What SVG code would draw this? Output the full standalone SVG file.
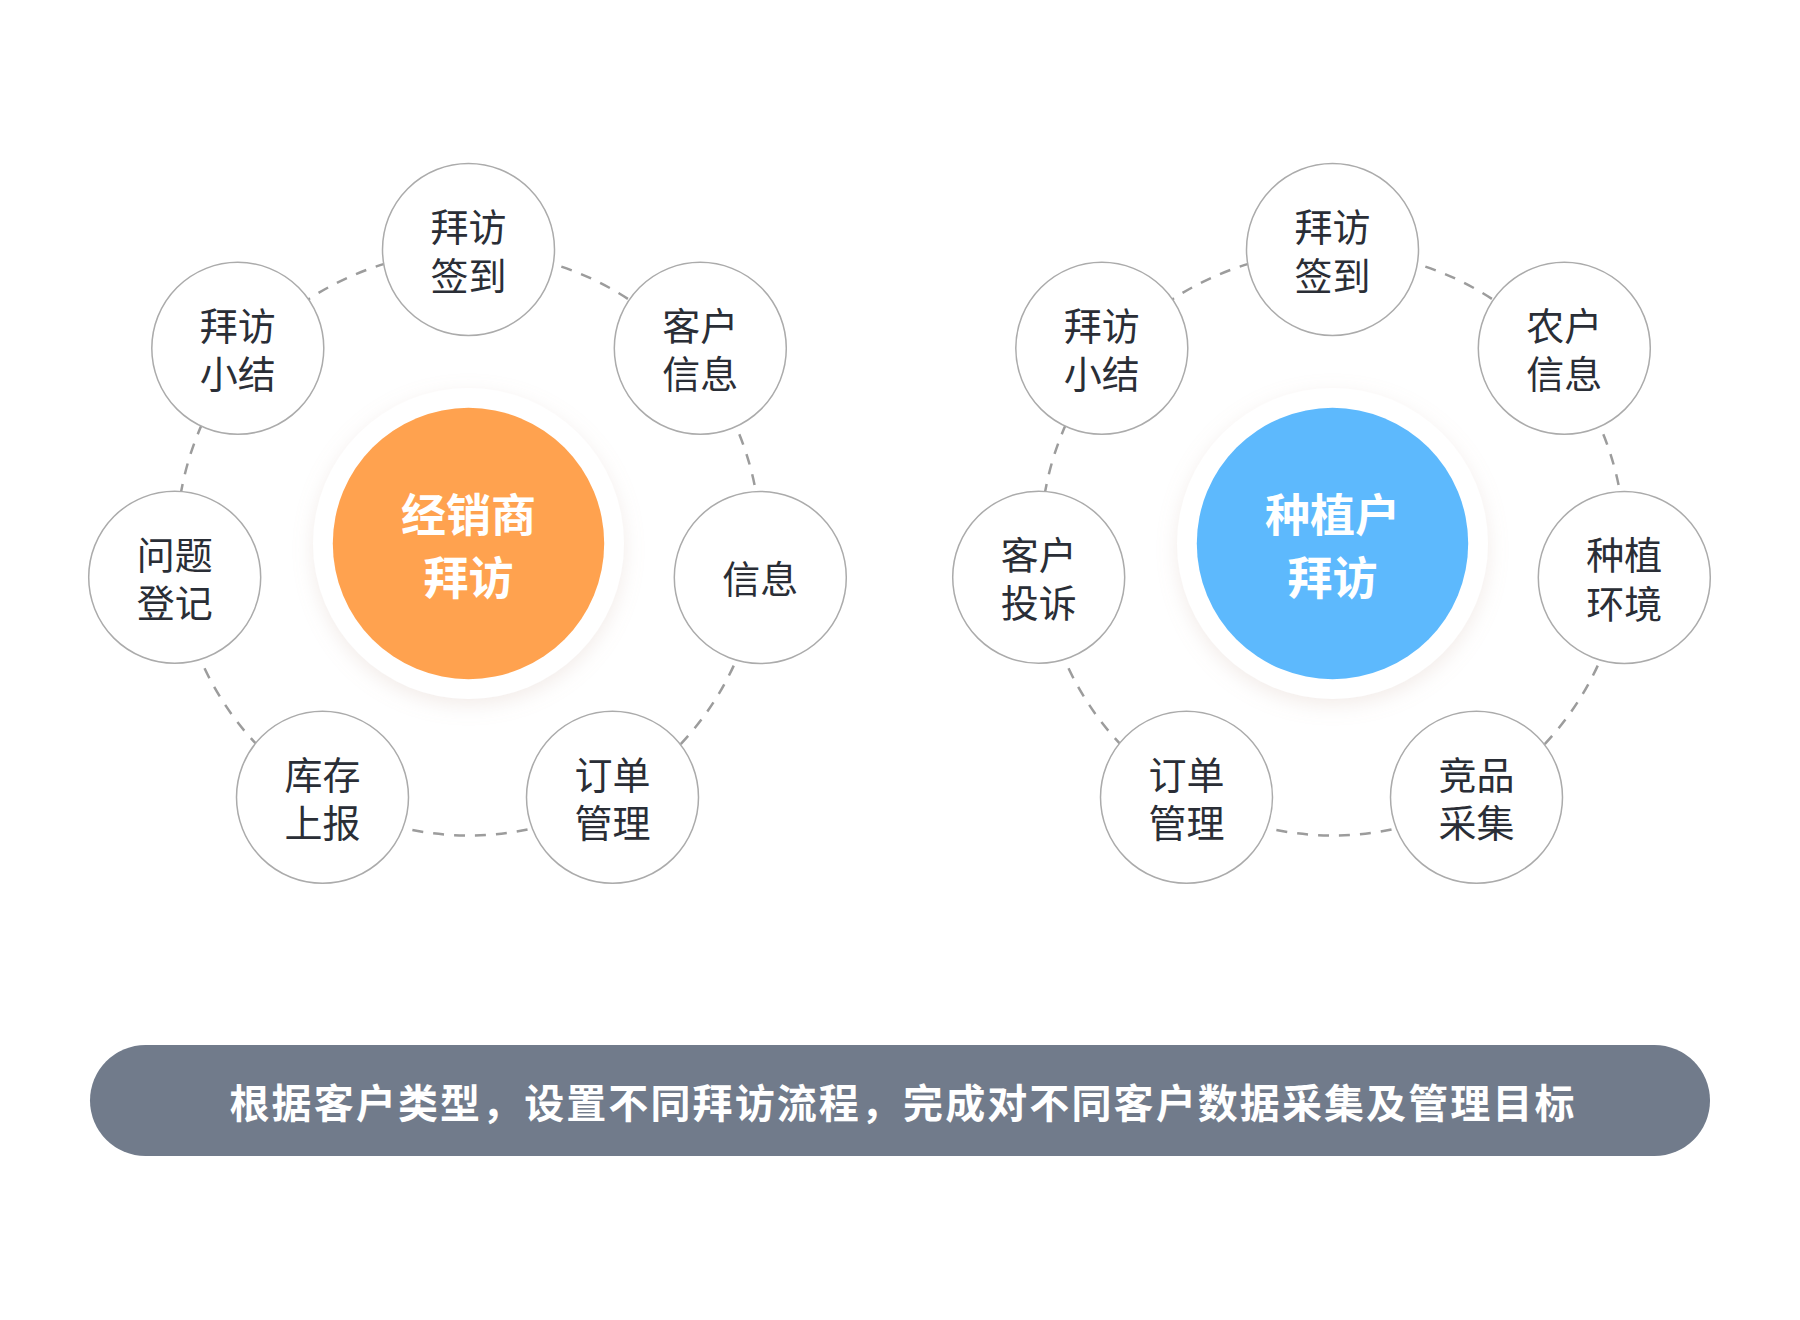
<svg xmlns="http://www.w3.org/2000/svg" width="1800" height="1320" viewBox="0 0 1800 1320">
<defs>
<filter id="halo" x="-30%" y="-30%" width="160%" height="160%">
<feDropShadow dx="0" dy="6" stdDeviation="10" flood-color="#c8a89a" flood-opacity="0.22"/>
</filter>
<style>
.ring{fill:none;stroke:#9c9c9c;stroke-width:2.5;stroke-dasharray:11 10}
.node{fill:#ffffff;stroke:#ababab;stroke-width:1.5}
.lbl{font-family:"Noto Sans CJK SC","Noto Sans",sans-serif;font-size:38px;fill:#2a2e36;text-anchor:middle}
.hub{font-family:"Noto Sans CJK SC","Noto Sans",sans-serif;font-size:45px;font-weight:700;fill:#ffffff;text-anchor:middle}
.banner{font-family:"Noto Sans CJK SC","Noto Sans",sans-serif;font-size:40px;font-weight:700;fill:#ffffff;text-anchor:middle}
</style>
</defs>
<rect width="1800" height="1320" fill="#ffffff"/>

<g id="connectors">
<circle class="ring" cx="468.5" cy="543.5" r="292"/>
<circle class="ring" cx="1332.5" cy="543.5" r="292"/>
</g>

<g id="hub-left">
<circle cx="468.5" cy="543.5" r="155.5" fill="#ffffff" filter="url(#halo)"/>
<circle cx="468.5" cy="543.5" r="135.7" fill="#ffa24f"/>
<text class="hub"><tspan x="468.5" y="532">经销商</tspan><tspan x="468.5" y="595">拜访</tspan></text>
</g>

<g id="hub-right">
<circle cx="1332.5" cy="543.5" r="155.5" fill="#ffffff" filter="url(#halo)"/>
<circle cx="1332.5" cy="543.5" r="135.7" fill="#5db9fd"/>
<text class="hub"><tspan x="1332.5" y="532">种植户</tspan><tspan x="1332.5" y="595">拜访</tspan></text>
</g>

<g id="l-checkin"><circle class="node" cx="468.5" cy="249.5" r="86"/><text class="lbl"><tspan x="468.5" y="241">拜访</tspan><tspan x="468.5" y="289.5">签到</tspan></text></g>
<g id="l-custinfo"><circle class="node" cx="700.3" cy="348.3" r="86"/><text class="lbl"><tspan x="700.3" y="339.8">客户</tspan><tspan x="700.3" y="388.3">信息</tspan></text></g>
<g id="l-info"><circle class="node" cx="760.3" cy="577.5" r="86"/><text class="lbl" x="760.3" y="592.5">信息</text></g>
<g id="l-order"><circle class="node" cx="612.5" cy="797.3" r="86"/><text class="lbl"><tspan x="612.5" y="788.8">订单</tspan><tspan x="612.5" y="837.3">管理</tspan></text></g>
<g id="l-stock"><circle class="node" cx="322.5" cy="797.3" r="86"/><text class="lbl"><tspan x="322.5" y="788.8">库存</tspan><tspan x="322.5" y="837.3">上报</tspan></text></g>
<g id="l-issue"><circle class="node" cx="174.7" cy="577.3" r="86"/><text class="lbl"><tspan x="174.7" y="568.8">问题</tspan><tspan x="174.7" y="617.3">登记</tspan></text></g>
<g id="l-summary"><circle class="node" cx="237.8" cy="348.3" r="86"/><text class="lbl"><tspan x="237.8" y="339.8">拜访</tspan><tspan x="237.8" y="388.3">小结</tspan></text></g>

<g id="r-checkin"><circle class="node" cx="1332.5" cy="249.5" r="86"/><text class="lbl"><tspan x="1332.5" y="241">拜访</tspan><tspan x="1332.5" y="289.5">签到</tspan></text></g>
<g id="r-farmerinfo"><circle class="node" cx="1564.3" cy="348.3" r="86"/><text class="lbl"><tspan x="1564.3" y="339.8">农户</tspan><tspan x="1564.3" y="388.3">信息</tspan></text></g>
<g id="r-environment"><circle class="node" cx="1624.3" cy="577.5" r="86"/><text class="lbl"><tspan x="1624.3" y="569">种植</tspan><tspan x="1624.3" y="617.5">环境</tspan></text></g>
<g id="r-competitor"><circle class="node" cx="1476.5" cy="797.3" r="86"/><text class="lbl"><tspan x="1476.5" y="788.8">竞品</tspan><tspan x="1476.5" y="837.3">采集</tspan></text></g>
<g id="r-order"><circle class="node" cx="1186.5" cy="797.3" r="86"/><text class="lbl"><tspan x="1186.5" y="788.8">订单</tspan><tspan x="1186.5" y="837.3">管理</tspan></text></g>
<g id="r-complaint"><circle class="node" cx="1038.7" cy="577.3" r="86"/><text class="lbl"><tspan x="1038.7" y="568.8">客户</tspan><tspan x="1038.7" y="617.3">投诉</tspan></text></g>
<g id="r-summary"><circle class="node" cx="1101.8" cy="348.3" r="86"/><text class="lbl"><tspan x="1101.8" y="339.8">拜访</tspan><tspan x="1101.8" y="388.3">小结</tspan></text></g>

<g id="banner">
<rect x="90" y="1045" width="1620" height="111" rx="55.5" fill="#717b8b"/>
<text class="banner" x="902" y="1117.5" textLength="1345" lengthAdjust="spacing">根据客户类型，设置不同拜访流程，完成对不同客户数据采集及管理目标</text>
</g>
</svg>
